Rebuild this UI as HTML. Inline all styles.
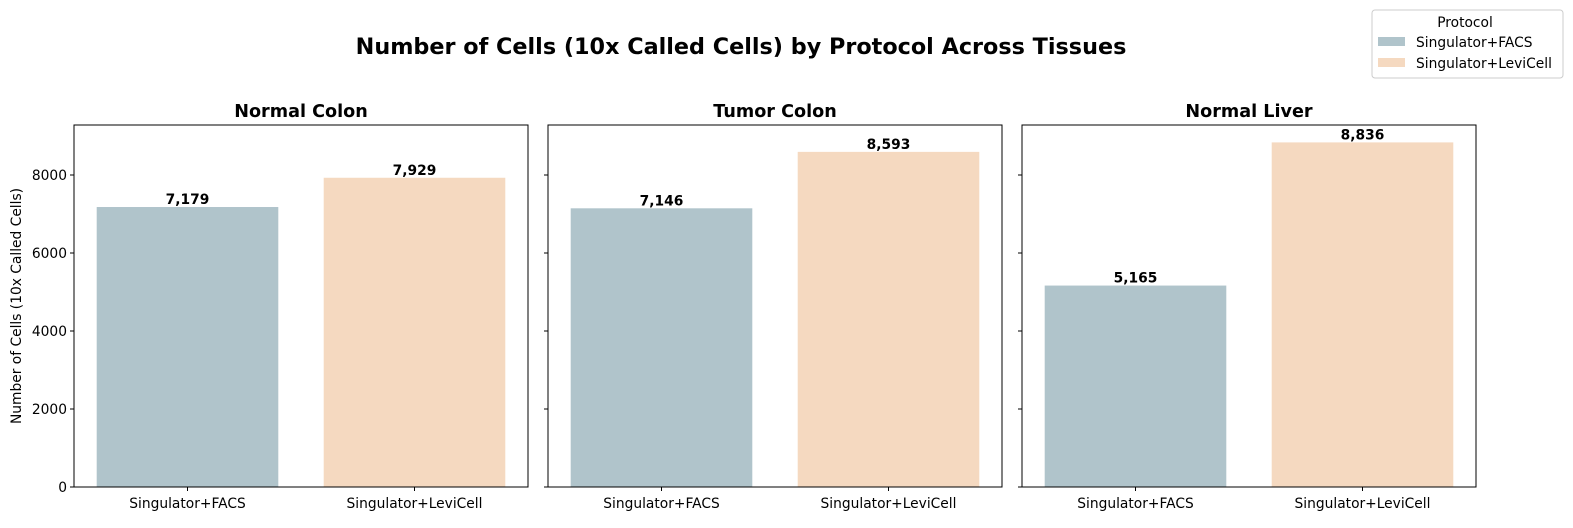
<!DOCTYPE html>
<html><head><meta charset="utf-8"><style>
body{margin:0;background:#fff;}
svg text{font-family:"DejaVu Sans","Liberation Sans",sans-serif;}
</style></head><body>
<svg id="chart" width="1573" height="523" xmlns="http://www.w3.org/2000/svg">
<text x="741" y="54" text-anchor="middle" font-size="22.3" font-weight="bold">Number of Cells (10x Called Cells) by Protocol Across Tissues</text>
<text transform="translate(21,306) rotate(-90)" text-anchor="middle" font-size="13.8">Number of Cells (10x Called Cells)</text>
<g id="panels"></g>
<g>
<rect x="1372" y="10" width="191" height="68" rx="3" fill="#fff" stroke="#ccc"/>
<text x="1465" y="27" text-anchor="middle" font-size="13.8">Protocol</text>
<rect x="1378" y="37" width="27" height="9" fill="#b0c4cb"/>
<text x="1416" y="47" font-size="13.8">Singulator+FACS</text>
<rect x="1378" y="58" width="27" height="9" fill="#f5d9c0"/>
<text x="1416" y="68" font-size="13.8">Singulator+LeviCell</text>
</g>
</svg>
<script>
const tissues = ["Normal Colon","Tumor Colon","Normal Liver"];
const categories = ["Singulator+FACS","Singulator+LeviCell"];
const facsValues = [7179,7146,5165];
const leviValues = [7929,8593,8836];
const yTicks = [0,2000,4000,6000,8000];
const colors = ["#b0c4cb","#f5d9c0"];
const NS="http://www.w3.org/2000/svg";
const panelsG=document.getElementById('panels');
const panelX=[74,548,1022], pw=454, plotTop=125, plotBottom=487, yMax=9282;
function yScale(v){return plotBottom-(v/yMax)*(plotBottom-plotTop);}
function mk(tag,attrs){const e=document.createElementNS(NS,tag);for(const k in attrs)e.setAttribute(k,attrs[k]);panelsG.appendChild(e);return e;}
tissues.forEach((t,pi)=>{
  const x0=panelX[pi];
  const xs=i=>x0+(i+0.5)/2*pw;
  const vals=[facsValues[pi],leviValues[pi]];
  const tt=mk('text',{x:x0+pw/2,y:117,'text-anchor':'middle','font-size':17.6,'font-weight':'bold'});
  tt.textContent=t;
  
  
  vals.forEach((v,i)=>{
    const bw=pw/2*0.8;
    const r=mk('rect',{x:xs(i)-bw/2,y:yScale(v),width:bw,height:plotBottom-yScale(v),fill:colors[i]});
    
    
    const l=mk('text',{x:xs(i),y:yScale(v)-3,'text-anchor':'middle','font-size':13.8,'font-weight':'bold'});
    l.textContent=v.toLocaleString('en-US');
    
    
    mk('line',{x1:xs(i),x2:xs(i),y1:plotBottom,y2:plotBottom+4,stroke:'#000'});
    const c=mk('text',{x:xs(i),y:plotBottom+21,'text-anchor':'middle','font-size':13.8});
    c.textContent=categories[i];
    
    
  });
  yTicks.forEach(v=>{
    mk('line',{x1:x0-4,x2:x0,y1:yScale(v),y2:yScale(v),stroke:'#000'});
    if(pi===0){
      const tl=mk('text',{x:x0-7,y:yScale(v)+5,'text-anchor':'end','font-size':13.8});
      tl.textContent=v;
      
      
    }
  });
  const f=mk('rect',{x:x0,y:plotTop,width:pw,height:plotBottom-plotTop,fill:'none',stroke:'#000','stroke-width':1});
  
  
});
</script>
</body></html>
